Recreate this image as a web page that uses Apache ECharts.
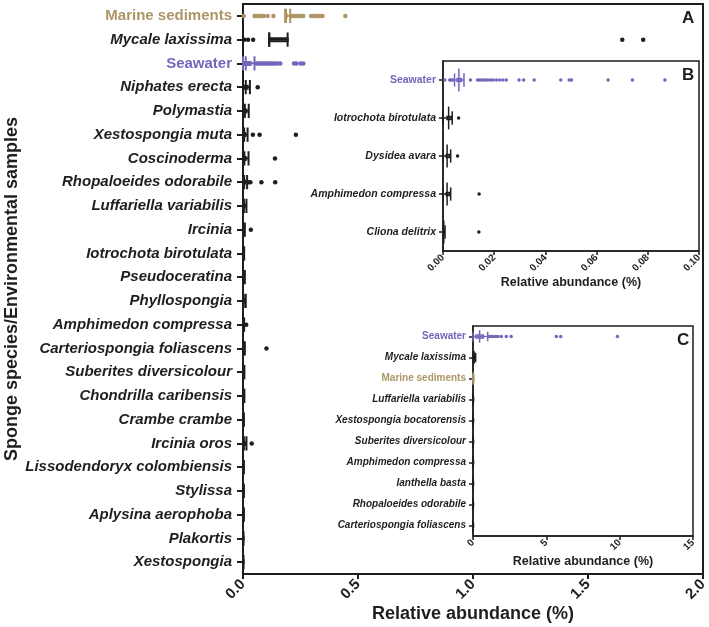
<!DOCTYPE html>
<html>
<head>
<meta charset="utf-8">
<script src="https://cdn.jsdelivr.net/npm/echarts@6/dist/echarts.min.js"></script>
<style>html,body{margin:0;padding:0;background:#fff}#c{width:709px;height:627px}</style>
</head>
<body>
<div id="c"></div>
<script>
// ---------- DATA ----------
const mainCategories = ['Marine sediments','Mycale laxissima','Seawater','Niphates erecta','Polymastia','Xestospongia muta','Coscinoderma','Rhopaloeides odorabile','Luffariella variabilis','Ircinia','Iotrochota birotulata','Pseudoceratina','Phyllospongia','Amphimedon compressa','Carteriospongia foliascens','Suberites diversicolour','Chondrilla caribensis','Crambe crambe','Ircinia oros','Lissodendoryx colombiensis','Stylissa','Aplysina aerophoba','Plakortis','Xestospongia'];
// [min, Q1, median, Q3, max]
const mainBoxes = [
  [0.183,0.185,0.187,0.190,0.205],
  [0.114,0.114,0.114,0.194,0.194],
  [0,0.006,0.012,0.033,0.05],
  [0,0.005,0.012,0.020,0.030],
  [0,0.003,0.008,0.015,0.025],
  [0,0.002,0.005,0.010,0.020],
  [0,0.002,0.006,0.012,0.024],
  [0,0.002,0.005,0.010,0.018],
  [0,0.002,0.004,0.008,0.015],
  [0,0.001,0.002,0.004,0.008],
  [0,0.0016,0.0025,0.0035,0.005],
  [0,0.001,0.002,0.004,0.008],
  [0,0.001,0.003,0.006,0.012],
  [0,0.0013,0.002,0.003,0.005],
  [0,0.001,0.002,0.004,0.008],
  [0,0.001,0.002,0.003,0.006],
  [0,0.001,0.002,0.003,0.006],
  [0,0.0005,0.001,0.002,0.004],
  [0,0.002,0.004,0.008,0.015],
  [0,0.0005,0.001,0.002,0.004],
  [0,0.0005,0.001,0.002,0.004],
  [0,0.0005,0.001,0.002,0.004],
  [0,0.0003,0.0006,0.001,0.002],
  [0,0.0003,0.0006,0.001,0.002]
];
const mainOutliers = [
  [0.003,0.05,0.056,0.062,0.068,0.075,0.082,0.09,0.107,0.132,0.212,0.219,0.226,0.233,0.24,0.247,0.255,0.262,0.296,0.303,0.31,0.318,0.325,0.333,0.34,0.346,0.445],
  [0.006,0.022,0.044,1.649,1.74],
  [0.058,0.066,0.074,0.082,0.09,0.098,0.106,0.114,0.122,0.13,0.14,0.15,0.162,0.222,0.232,0.25,0.262],
  [0.064],
  [],
  [0.043,0.072,0.23],
  [0.139],
  [0.025,0.032,0.08,0.14],
  [],
  [0.034],
  [],[],[],
  [0.014],
  [0.102],
  [],[],[],
  [0.038],
  [],[],[],[],[]
];
const mainTicks = [0, 0.5, 1.0, 1.5, 2.0];

const bCategories = ['Seawater','Iotrochota birotulata','Dysidea avara','Amphimedon compressa','Cliona delitrix'];
const bBoxes = [
  [0.0045,0.0055,0.0062,0.0072,0.0082],
  [0,0.0016,0.0022,0.0033,0.0036],
  [0,0.0013,0.0016,0.0027,0.003],
  [0,0.0013,0.0016,0.0027,0.003],
  [0,0.0002,0.0003,0.0005,0.0008]
];
const bOutliers = [
  [0.0007,0.0026,0.0032,0.0038,0.0107,0.0135,0.0143,0.015,0.0158,0.0166,0.0175,0.0185,0.0195,0.0208,0.0221,0.0234,0.0247,0.0297,0.0315,0.0356,0.046,0.0493,0.0502,0.0645,0.074,0.0867],
  [0.0061],
  [0.0057],
  [0.0141],
  [0.014]
];

const cCategories = ['Seawater','Mycale laxissima','Marine sediments','Luffariella variabilis','Xestospongia bocatorensis','Suberites diversicolour','Amphimedon compressa','Ianthella basta','Rhopaloeides odorabile','Carteriospongia foliascens'];
const cBoxes = [
  [0,0.2,0.45,0.7,1.0],
  [0,0.05,0.08,0.12,0.18],
  [0,0.01,0.02,0.03,0.05],
  [0,0.005,0.01,0.015,0.02],
  [0,0.003,0.006,0.01,0.015],
  [0,0.003,0.006,0.01,0.015],
  [0,0.003,0.006,0.01,0.015],
  [0,0.002,0.004,0.006,0.01],
  [0,0.002,0.004,0.006,0.01],
  [0,0.002,0.004,0.006,0.01]
];
const cOutliers = [
  [1.1,1.25,1.4,1.55,1.7,1.93,2.27,2.6,5.68,5.98,9.85],
  [],[],[],[],[],[],[],[],[]
];

// ---------- STYLE ----------
const FONT = 'Liberation Sans';
const INK = '#1e1e1e';
const PURPLE = '#7366bb';
const TAN = '#ad9566';
function colorOf(name){ return name === 'Seawater' ? PURPLE : (name === 'Marine sediments' ? TAN : INK); }

function boxRender(cats, capFrac, medFrac, boxPx, lw){
  return function(params, api){
    const cat = api.value(0);
    const xs = [1,2,3,4,5].map(i => api.coord([api.value(i), cat])[0]);
    const y = api.coord([0, cat])[1];
    const band = api.size([0,1])[1];
    const capH = band*capFrac, medH = band*medFrac;
    const color = colorOf(cats[cat]);
    const st = {stroke: color, lineWidth: lw, fill: null};
    return {type:'group', children:[
      {type:'line', shape:{x1:xs[0],y1:y,x2:xs[4],y2:y}, style:st},
      {type:'rect', shape:{x:xs[1],y:y-boxPx/2,width:Math.max(xs[3]-xs[1],0.5),height:boxPx}, style:st},
      {type:'line', shape:{x1:xs[0],y1:y-capH/2,x2:xs[0],y2:y+capH/2}, style:st},
      {type:'line', shape:{x1:xs[4],y1:y-capH/2,x2:xs[4],y2:y+capH/2}, style:st},
      {type:'line', shape:{x1:xs[2],y1:y-medH/2,x2:xs[2],y2:y+medH/2}, style:st}
    ]};
  };
}
function outlierData(outs){
  const d = [];
  outs.forEach((arr, i) => arr.forEach(v => d.push([v, i])));
  return d;
}
function catLabel(size, margin){
  return {
    margin: margin,
    formatter: v => v === 'Seawater' ? '{sw|' + v + '}' : (v === 'Marine sediments' ? '{ms|' + v + '}' : '{sp|' + v + '}'),
    rich: {
      sp: {fontFamily: FONT, fontSize: size, fontWeight: 'bold', fontStyle: 'italic', color: INK},
      sw: {fontFamily: FONT, fontSize: size, fontWeight: 'bold', color: PURPLE},
      ms: {fontFamily: FONT, fontSize: size, fontWeight: 'bold', color: TAN}
    }
  };
}

const chart = echarts.init(document.getElementById('c'), null, {renderer:'canvas'});
const axisLine = w => ({show:true, lineStyle:{color:INK, width:w}});

chart.setOption({
  backgroundColor: '#fff',
  animation: false,
  graphic: [
    {type:'text', left:682, top:10, z:100, style:{text:'A', font:'bold 17px ' + FONT, fill:INK}},
    {type:'text', left:682, top:67, z:100, style:{text:'B', font:'bold 17px ' + FONT, fill:INK}},
    {type:'text', left:677, top:332, z:100, style:{text:'C', font:'bold 17px ' + FONT, fill:INK}}
  ],
  grid: [
    {left:243, top:4, width:460, height:570, containLabel:false, outerBoundsMode:'none', show:true, borderColor:INK, borderWidth:2, backgroundColor:'#fff'},
    {left:443, top:61, width:256, height:190, containLabel:false, outerBoundsMode:'none', show:true, borderColor:INK, borderWidth:1.5, backgroundColor:'#fff'},
    {left:473, top:326, width:220, height:210, containLabel:false, outerBoundsMode:'none', show:true, borderColor:INK, borderWidth:1.5, backgroundColor:'#fff'}
  ],
  xAxis: [
    {gridIndex:0, type:'value', min:mainTicks[0], max:mainTicks[mainTicks.length-1], interval:0.5,
     splitLine:{show:false}, axisLine:axisLine(2), axisTick:{show:true, length:5, lineStyle:{width:2, color:INK}},
     axisLabel:{rotate:45, margin:8, fontFamily:FONT, fontSize:15, fontWeight:'bold', color:INK, formatter:v=>v.toFixed(1)},
     name:'Relative abundance (%)', nameLocation:'middle', nameGap:31, nameMoveOverlap:false,
     nameTextStyle:{fontFamily:FONT, fontSize:18, fontWeight:'bold', color:INK}},
    {gridIndex:1, type:'value', min:0, max:0.1, interval:0.02,
     splitLine:{show:false}, axisLine:axisLine(1.5), axisTick:{show:true, length:4, lineStyle:{width:1.5, color:INK}},
     axisLabel:{rotate:45, margin:5, fontFamily:FONT, fontSize:10, fontWeight:'bold', color:INK, formatter:v=>v.toFixed(2)},
     name:'Relative abundance (%)', nameLocation:'middle', nameGap:17,
     nameTextStyle:{fontFamily:FONT, fontSize:12.5, fontWeight:'bold', color:INK}},
    {gridIndex:2, type:'value', min:0, max:15, interval:5,
     splitLine:{show:false}, axisLine:axisLine(1.5), axisTick:{show:true, length:4, lineStyle:{width:1.5, color:INK}},
     axisLabel:{rotate:45, margin:5, fontFamily:FONT, fontSize:10, fontWeight:'bold', color:INK},
     name:'Relative abundance (%)', nameLocation:'middle', nameGap:19,
     nameTextStyle:{fontFamily:FONT, fontSize:12.5, fontWeight:'bold', color:INK}}
  ],
  yAxis: [
    {gridIndex:0, type:'category', inverse:true, data:mainCategories,
     axisLine:axisLine(2), axisTick:{show:true, alignWithLabel:true, length:6, lineStyle:{width:2, color:INK}},
     axisLabel:catLabel(15, 11),
     name:'Sponge species/Environmental samples', nameLocation:'middle', nameGap:222, nameRotate:90, nameMoveOverlap:false,
     nameTextStyle:{fontFamily:FONT, fontSize:18, fontWeight:'bold', color:INK}},
    {gridIndex:1, type:'category', inverse:true, data:bCategories,
     axisLine:axisLine(1.5), axisTick:{show:true, alignWithLabel:true, length:4, lineStyle:{width:1.5, color:INK}},
     axisLabel:catLabel(10.5, 7)},
    {gridIndex:2, type:'category', inverse:true, data:cCategories,
     axisLine:axisLine(1.5), axisTick:{show:true, alignWithLabel:true, length:4, lineStyle:{width:1.5, color:INK}},
     axisLabel:catLabel(10, 7)}
  ],
  series: [
    {type:'custom', xAxisIndex:0, yAxisIndex:0, renderItem: boxRender(mainCategories, 0.6, 0.6, 3, 2),
     encode:{x:[1,2,3,4,5], y:0}, data: mainBoxes.map((b,i)=>[i].concat(b)), z:3},
    {type:'scatter', xAxisIndex:0, yAxisIndex:0, symbolSize:4.5, data: outlierData(mainOutliers),
     itemStyle:{color: p => colorOf(mainCategories[p.value[1]]), opacity:1}, z:4},
    {type:'custom', xAxisIndex:1, yAxisIndex:1, renderItem: boxRender(bCategories, 0.35, 0.6, 3, 1.5),
     encode:{x:[1,2,3,4,5], y:0}, data: bBoxes.map((b,i)=>[i].concat(b)), z:3},
    {type:'scatter', xAxisIndex:1, yAxisIndex:1, symbolSize:3.5, data: outlierData(bOutliers),
     itemStyle:{color: p => colorOf(bCategories[p.value[1]]), opacity:1}, z:4},
    {type:'custom', xAxisIndex:2, yAxisIndex:2, renderItem: boxRender(cCategories, 0.45, 0.6, 3, 1.5),
     encode:{x:[1,2,3,4,5], y:0}, data: cBoxes.map((b,i)=>[i].concat(b)), z:3},
    {type:'scatter', xAxisIndex:2, yAxisIndex:2, symbolSize:3.5, data: outlierData(cOutliers),
     itemStyle:{color: p => colorOf(cCategories[p.value[1]]), opacity:1}, z:4}
  ]
});
</script>
</body>
</html>
